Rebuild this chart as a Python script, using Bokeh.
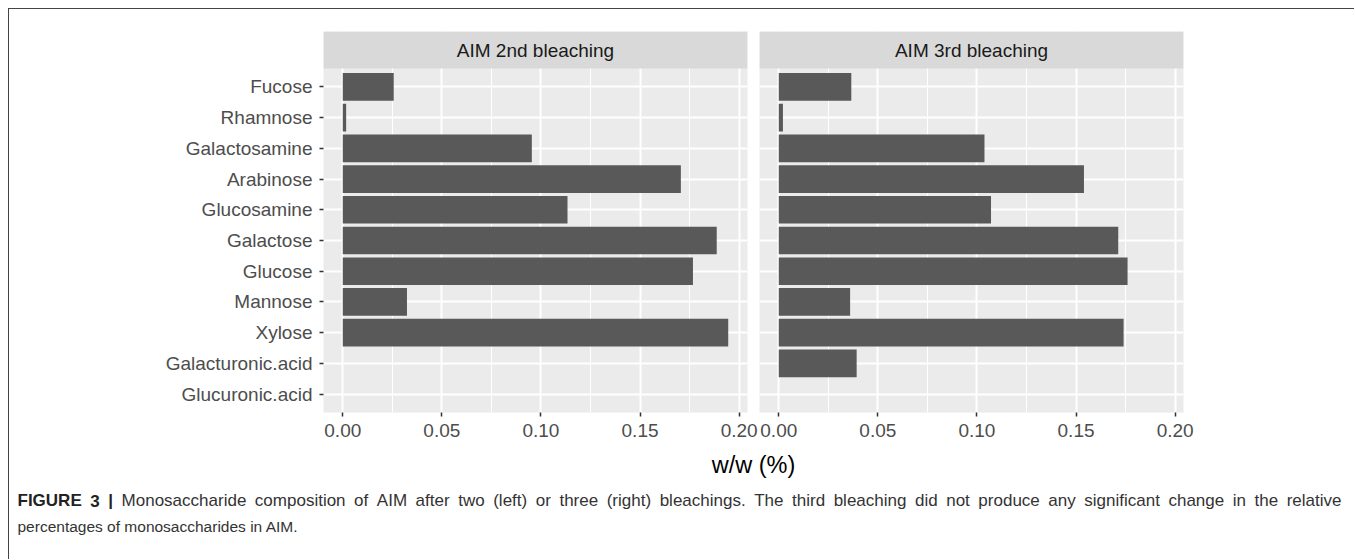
from bokeh.plotting import figure
from bokeh.models import Range1d, FixedTicker, Label
from bokeh.layouts import row, column
from bokeh.embed import file_html
from bokeh.resources import INLINE
from bokeh.core.properties import value

# ---------------- data ----------------
categories = ["Fucose", "Rhamnose", "Galactosamine", "Arabinose", "Glucosamine",
              "Galactose", "Glucose", "Mannose", "Xylose",
              "Galacturonic.acid", "Glucuronic.acid"]
second_bleaching = [0.0257, 0.0017, 0.0954, 0.1706, 0.1134, 0.1887,
                    0.1767, 0.0324, 0.1945, 0.0, 0.0]
third_bleaching = [0.0366, 0.0021, 0.1038, 0.1540, 0.1071, 0.1713,
                   0.1760, 0.0360, 0.1740, 0.0393, 0.0]
panel_titles = ["AIM 2nd bleaching", "AIM 3rd bleaching"]
x_ticks = [0.0, 0.05, 0.10, 0.15, 0.20]
x_tick_labels = ["0.00", "0.05", "0.10", "0.15", "0.20"]
x_minor_ticks = [0.025, 0.075, 0.125, 0.175]
x_title = "w/w (%)"
caption_bold = "FIGURE 3 |"
caption_line1 = ("Monosaccharide composition of AIM after two (left) or three (right) "
                 "bleachings. The third bleaching did not produce any significant change in the relative")
caption_line2 = "percentages of monosaccharides in AIM."

FONT = "Liberation Sans"
CAP1_SIZE = 17
CAP2_SIZE = 15.5

# ---------------- layout constants (pixels) ----------------
LEFT_W, RIGHT_W, TOP_H, CAP_H = 750, 595, 436, 114
FRAME_W = 424
LEFT_MIN = 314
FRAME_TOP, FRAME_BOTTOM = 22, 33
STRIP_PX = 37
PANEL_PX = TOP_H - FRAME_TOP - FRAME_BOTTOM - STRIP_PX

n = len(categories)
ypos = [n - 1 - i for i in range(n)]
xmax = max(second_bleaching + third_bleaching)
x_lo, x_hi = -0.05 * xmax, 1.05 * xmax
y_lo, y_panel_hi = -0.6, (n - 1) + 0.6
y_hi = y_panel_hi + STRIP_PX * (y_panel_hi - y_lo) / PANEL_PX

x_range = Range1d(x_lo, x_hi)


def make_panel(values, title, show_y, width, min_left, min_right):
    p = figure(width=width, height=TOP_H, x_range=x_range,
               y_range=Range1d(y_lo, y_hi), output_backend="svg",
               toolbar_location=None, tools="")
    p.min_border = 0
    p.min_border_left = min_left
    p.min_border_right = min_right
    p.min_border_top = FRAME_TOP
    p.min_border_bottom = FRAME_BOTTOM
    p.outline_line_color = None
    p.background_fill_color = "#EBEBEB"
    p.border_fill_color = "white"

    # grids
    p.xgrid.ticker = FixedTicker(ticks=x_ticks, minor_ticks=x_minor_ticks)
    p.xgrid.grid_line_color = "white"
    p.xgrid.grid_line_width = 2
    p.xgrid.minor_grid_line_color = "white"
    p.xgrid.minor_grid_line_width = 1
    p.ygrid.ticker = FixedTicker(ticks=ypos)
    p.ygrid.grid_line_color = "white"
    p.ygrid.grid_line_width = 2

    # bars
    p.hbar(y=ypos, left=0, right=values, height=0.9,
           fill_color="#595959", line_color=None)

    # facet strip
    p.quad(left=[x_lo], right=[x_hi], bottom=[y_panel_hi], top=[y_hi],
           fill_color="#D9D9D9", line_color=None)
    p.add_layout(Label(x=(x_lo + x_hi) / 2, y=(y_panel_hi + y_hi) / 2,
                       text=title, text_align="center", text_baseline="middle",
                       text_font=FONT, text_font_size="19px", text_color="#1A1A1A"))

    # x axis
    xa = p.xaxis[0]
    xa.ticker = FixedTicker(ticks=x_ticks)
    xa.major_label_overrides = {t: l for t, l in zip(x_ticks, x_tick_labels)}
    xa.axis_line_color = None
    xa.major_tick_in = 0
    xa.major_tick_out = 4
    xa.minor_tick_out = 0
    xa.minor_tick_in = 0
    xa.major_tick_line_color = "#333333"
    xa.major_tick_line_width = 1.5
    xa.major_label_text_font = FONT
    xa.major_label_text_font_size = "19px"
    xa.major_label_text_color = "#4D4D4D"
    xa.major_label_standoff = 7

    # y axis
    ya = p.yaxis[0]
    if show_y:
        ya.ticker = FixedTicker(ticks=ypos)
        ya.major_label_overrides = {y: c for y, c in zip(ypos, categories)}
        ya.axis_line_color = None
        ya.major_tick_in = 0
        ya.major_tick_out = 4
        ya.minor_tick_out = 0
        ya.minor_tick_in = 0
        ya.major_tick_line_color = "#333333"
        ya.major_tick_line_width = 1.5
        ya.major_label_text_font = FONT
        ya.major_label_text_font_size = "19px"
        ya.major_label_text_color = "#4D4D4D"
        ya.major_label_standoff = 7
    else:
        ya.visible = False
    return p


left = make_panel(second_bleaching, panel_titles[0], True, LEFT_W,
                  LEFT_MIN, LEFT_W - LEFT_MIN - FRAME_W)
right = make_panel(third_bleaching, panel_titles[1], False, RIGHT_W,
                   0, RIGHT_W - FRAME_W)

# ---------------- caption area (axis title + figure caption) ----------------
TOTAL_W = LEFT_W + RIGHT_W
cap = figure(width=TOTAL_W, height=CAP_H, x_range=Range1d(0, TOTAL_W),
             y_range=Range1d(CAP_H, 0), output_backend="svg",
             toolbar_location=None, tools="")
cap.min_border = 0
cap.axis.visible = False
cap.grid.visible = False
cap.outline_line_color = None
cap.background_fill_color = "white"
cap.border_fill_color = "white"

panel_center = (LEFT_MIN + LEFT_W + FRAME_W) / 2
cap.text(x=[panel_center], y=[19], text=[x_title], text_font=value(FONT),
         text_font_size="23.5px", text_align="center", text_baseline="middle",
         text_color="black")

# Arial/Liberation Sans advance widths (1/1000 em) used to justify line 1
REG = dict(zip("abcdefghijklmnopqrstuvwxyz",
               [556, 556, 500, 556, 556, 278, 556, 556, 222, 222, 500, 222, 833,
                556, 556, 556, 556, 333, 500, 278, 556, 500, 722, 500, 500, 500]))
REG.update(dict(zip("ABCDEFGHIJKLMNOPQRSTUVWXYZ",
                    [667, 667, 722, 722, 667, 611, 778, 722, 278, 500, 667, 556, 833,
                     722, 778, 667, 778, 722, 667, 611, 722, 667, 944, 667, 667, 611])))
REG.update({" ": 278, "(": 333, ")": 333, ".": 278, ",": 278, "|": 260, "3": 556})
BOLD = dict(REG)
BOLD.update({"F": 611, "I": 278, "G": 778, "U": 722, "R": 722, "E": 667,
             "3": 556, "|": 280})


def text_width(s, table, size):
    return sum(table.get(ch, 556) for ch in s) * size / 1000.0


bold_words = caption_bold.split()
reg_words = caption_line1.split()
widths = ([text_width(w, BOLD, CAP1_SIZE) for w in bold_words] +
          [text_width(w, REG, CAP1_SIZE) for w in reg_words])
line_start, line_end = 8, 1332
gap = (line_end - line_start - sum(widths)) / (len(widths) - 1)
xs = []
cur = line_start
for w in widths:
    xs.append(cur)
    cur += w + gap
nb = len(bold_words)

cap.text(x=xs[:nb], y=[55] * nb, text=bold_words, text_font=value(FONT),
         text_font_style="bold", text_font_size=f"{CAP1_SIZE}px", text_align="left",
         text_baseline="middle", text_color="#222222")
cap.text(x=xs[nb:], y=[55] * len(reg_words), text=reg_words, text_font=value(FONT),
         text_font_size=f"{CAP1_SIZE}px", text_align="left",
         text_baseline="middle", text_color="#333333")
cap.text(x=[line_start], y=[81], text=[caption_line2], text_font=value(FONT),
         text_font_size=f"{CAP2_SIZE}px", text_align="left",
         text_baseline="middle", text_color="#333333")

layout = column(row(left, right), cap,
                margin=(8, 0, 0, 8),
                styles={"border-top": "1px solid #444444",
                        "border-left": "1px solid #444444"})

open("out.html", "w").write(file_html(layout, INLINE))
